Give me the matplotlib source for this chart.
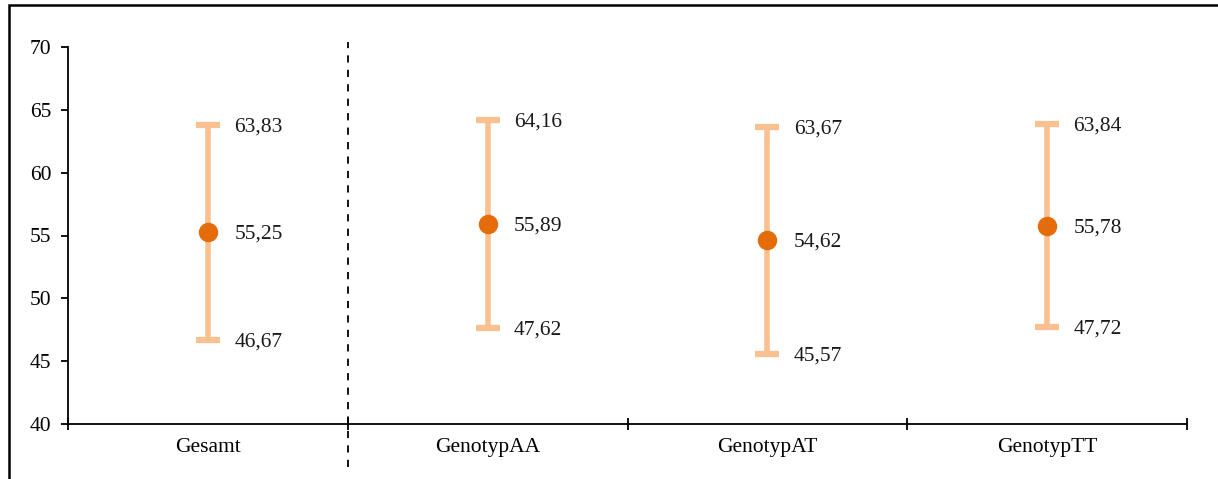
import matplotlib.pyplot as plt
from matplotlib.patches import Rectangle
import numpy as np

# Daten aus der Grafik
kategorien = ["Gesamt", "GenotypAA", "GenotypAT", "GenotypTT"]
mittelwert = [55.25, 55.89, 54.62, 55.78]
oben = [63.83, 64.16, 63.67, 63.84]
unten = [46.67, 47.62, 45.57, 47.72]

def komma(v):
    return f"{v:.2f}".replace(".", ",")

plt.rcParams["font.family"] = ["Liberation Serif", "DejaVu Serif"]
plt.rcParams["font.size"] = 15.5

fig = plt.figure(figsize=(12.18, 4.79), dpi=100)
ax = fig.add_axes([68/1218, 1 - 424/479, (1187 - 68)/1218, (424 - 47)/479])

x = np.arange(len(kategorien))
m = np.array(mittelwert)
err = [m - np.array(unten), np.array(oben) - m]
ax.errorbar(x, m, yerr=err, fmt="none", ecolor="#FAC090", elinewidth=4,
            capsize=8.5, capthick=4.5, zorder=2)
ax.plot(x, m, "o", color="#E46C0A", markersize=13, zorder=3)

for i in x:
    for v in (mittelwert[i], oben[i], unten[i]):
        ax.annotate(komma(v), (i, v), xytext=(19, -1.5), textcoords="offset points",
                    ha="left", va="center", color="#1a1a1a")

ax.set_xlim(-0.5, len(kategorien) - 0.5)
ax.set_ylim(40, 70)
ax.set_yticks(range(40, 71, 5))
ax.set_xticks(np.arange(-0.5, len(kategorien)))
ax.set_xticklabels([])
ax.set_xticks(x, minor=True)
ax.set_xticklabels(kategorien, minor=True)
ax.tick_params(axis="x", which="major", direction="inout", length=8, width=1.3)
ax.tick_params(axis="x", which="minor", length=0, pad=10)
ax.tick_params(axis="y", direction="out", length=5, width=1.3, pad=7)
for s in ("top", "right"):
    ax.spines[s].set_visible(False)
for s in ("left", "bottom"):
    ax.spines[s].set_linewidth(1.3)

# gestrichelte Trennlinie
ax.axvline(0.5, ymin=-0.114, ymax=1.013, color="black", linestyle=(0, (4, 4)),
           linewidth=1.3, clip_on=False)

# Rahmen
fig.patches.append(Rectangle((9/1218, -0.1), 1.2, (479 - 5)/479 + 0.1,
                             transform=fig.transFigure, fill=False,
                             edgecolor="black", linewidth=1.8))

fig.savefig("out.png", dpi=100)
